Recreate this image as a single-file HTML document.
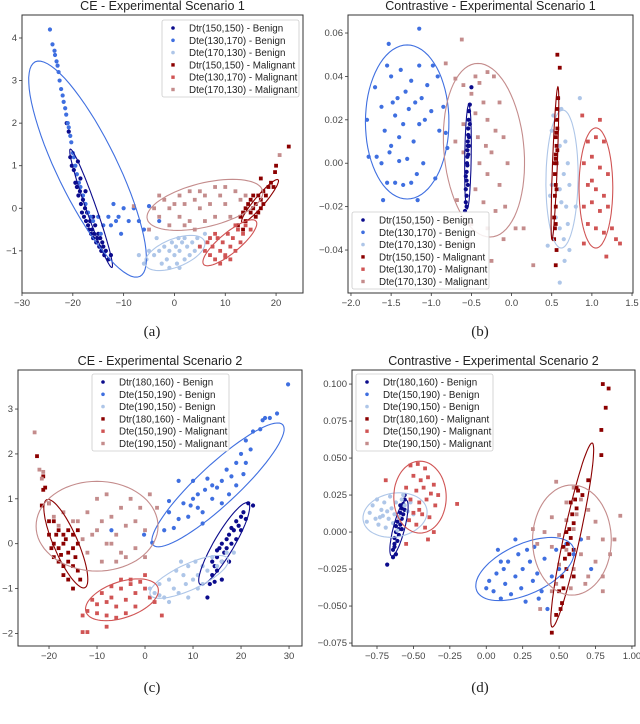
<!DOCTYPE html>
<html><head><meta charset="utf-8"><style>
html,body{margin:0;padding:0;background:#fff;width:640px;height:724px;overflow:hidden}
svg{display:block;font-family:"Liberation Sans",sans-serif}
</style></head><body>
<svg id="fig" width="640" height="724" viewBox="0 0 640 724"></svg>
<script>
// ---------- colors per series ----------
const seriesColors = ["#0b0b8c","#3f6fe0","#aec6e8","#8b0000","#d05454","#c48c8c"];
const seriesShapes = ["dot","dot","dot","sq","sq","sq"];

// ---------- panel (a) data ----------
const legendA = ["Dtr(150,150) - Benign","Dte(130,170) - Benign","Dte(170,130) - Benign","Dtr(150,150) - Malignant","Dte(130,170) - Malignant","Dte(170,130) - Malignant"];
const xTicksA = [-30,-20,-10,0,10,20];
const yTicksA = [-1,0,1,2,3,4];
const a0 = [[-20.8,1.8],[-20.5,1.2],[-20.2,1.0],[-19.8,0.9],[-19.5,0.6],[-19.2,0.5],[-18.9,0.3],[-18.6,0.4],[-18.4,0.1],[-18.2,-0.1],[-18,0.2],[-17.8,-0.2],[-17.6,0],[-17.4,-0.3],[-17.2,-0.1],[-17,-0.4],[-16.8,-0.5],[-16.6,-0.3],[-16.4,-0.6],[-16.2,-0.5],[-16,-0.7],[-15.8,-0.6],[-15.6,-0.4],[-15.4,-0.8],[-15.2,-0.7],[-15,-0.6],[-14.8,-0.9],[-14.6,-0.7],[-14.4,-1.0],[-14.2,-0.8],[-14,-0.9],[-13.8,-1.1],[-13.5,-1.0],[-13,-1.2],[-12.5,-1.1],[-19,1.1],[-18.5,0.7],[-17.5,0.4],[-16,-0.2],[-21.2,2.0]];
const a1 = [[-24.5,4.2],[-24,3.85],[-23.6,3.7],[-23.5,3.6],[-23.2,3.45],[-23,3.35],[-22.8,3.2],[-22.6,3.0],[-22.3,2.8],[-22,2.65],[-21.8,2.5],[-21.5,2.35],[-21.3,2.2],[-21,2.0],[-20.8,1.9],[-20.5,1.7],[-20.3,1.55],[-20,1.3],[-19.8,1.2],[-19.5,1.0],[-19.2,0.8],[-18.8,0.6],[-18.5,0.5],[-18,0.3],[-17.5,0.1],[-17,-0.1],[-16.5,-0.2],[-16,-0.3],[-15,-0.2],[-14,-0.4],[-13,-0.2],[-12,0.1],[-11.5,-0.3],[-11,-0.2],[-10,0],[-9,-0.3],[-8,0],[-7,-0.3],[-6,-0.5],[-5,0.05],[-10.5,-0.6],[-12.5,-0.4],[-3,-0.3],[-14.5,-0.6]];
const a2 = [[-7,-1.1],[-5.5,-1.2],[-5,-1.0],[-4,-1.1],[-3,-1.0],[-2,-0.9],[-1.5,-1.2],[-1,-1.0],[-0.5,-0.8],[0,-1.1],[0.3,-0.9],[0.5,-1.3],[1,-1.0],[1.5,-0.8],[2,-1.2],[2.5,-0.9],[3,-1.1],[3.5,-0.8],[4,-1.0],[4.5,-0.7],[5,-0.9],[6,-0.6],[7,-0.7],[-1,-1.4],[1,-1.4],[-2.5,-1.3],[0.8,-0.7],[-6,-1.3],[2,-0.7],[-3.5,-0.7]];
const a3 = [[12.5,-0.4],[13,-0.2],[13.5,-0.1],[14,0],[14,-0.3],[14.5,0.1],[15,-0.1],[15,0.2],[15.5,0],[16,0.1],[16,-0.2],[16.5,0.3],[17,0.2],[17,0],[17.5,0.4],[18,0.3],[18.5,0.5],[19,0.6],[19.5,0.5],[13.5,-0.5],[16.5,-0.1],[15.5,0.3],[17.5,0.1],[20,1.0],[19.8,0.85],[22.5,1.45],[17,0.7]];
const a4 = [[5,-0.9],[6,-1.0],[6.5,-0.8],[7,-1.1],[7.5,-0.9],[8,-1.2],[8.5,-0.7],[9,-1.0],[9.5,-0.8],[10,-1.1],[10.5,-0.6],[11,-0.9],[11.5,-0.7],[12,-1.0],[12.5,-0.5],[13,-0.8],[13.5,-0.6],[14,-0.4],[15,-0.5],[10,-1.15],[8,-0.6],[9,-1.3],[12,-0.4],[11,-1.2],[7,-0.7]];
const a5 = [[-8,0.05],[-5,-0.5],[-4,0],[-3,-0.2],[-2,0.2],[-1,0],[-1,-0.4],[0,0.1],[1,0.3],[1,-0.2],[2,0.1],[3,0.4],[3,-0.3],[4,0.2],[5,0],[5,0.4],[6,0.3],[6,-0.3],[7,0.1],[8,0.5],[8,-0.2],[9,0.3],[10,0.1],[10,0.5],[11,-0.2],[12,0.4],[13,0.2],[14,0.3],[2,-0.4],[-3,0.3],[20.7,1.25],[4,-0.5]];
const ellA = [[-16.4,0,4.1,-1.39,0.93,0.04],[-17.1,0.92,10.3,-2.52,5.3,0.31],[0.1,-1.05,5.9,0.22,0,0.35],[16.85,0.17,3.55,0.5,0.76,-0.075],[10.9,-0.81,5.3,0.45,0,0.3],[6.0,0.08,11.4,0.3,-0.3,0.52]];

// ---------- panel (b) data ----------
const xTicksB = [-2.0,-1.5,-1.0,-0.5,0.0,0.5,1.0,1.5];
const yTicksB = [-0.04,-0.02,0.00,0.02,0.04,0.06];
const b0 = [[-0.58,-0.022],[-0.57,-0.018],[-0.57,-0.012],[-0.56,-0.008],[-0.56,-0.004],[-0.555,0],[-0.55,0.003],[-0.55,0.006],[-0.545,0.01],[-0.54,0.013],[-0.54,0.016],[-0.535,0.02],[-0.53,0.024],[-0.52,0.027],[-0.5,0.035],[-0.56,-0.015],[-0.55,-0.001],[-0.545,0.008],[-0.54,0.004],[-0.53,0.012],[-0.52,0.018],[-0.56,-0.02],[-0.57,-0.006],[-0.545,-0.01],[-0.53,0.008]];
const b1 = [[-1.8,0.02],[-1.78,0.003],[-1.7,0.035],[-1.68,0.003],[-1.62,0.026],[-1.6,-0.017],[-1.58,0.015],[-1.55,0.045],[-1.53,0.055],[-1.5,0.04],[-1.5,0.008],[-1.48,0.028],[-1.45,0.022],[-1.45,-0.009],[-1.42,0.03],[-1.4,0.012],[-1.38,0.043],[-1.35,0.018],[-1.35,-0.01],[-1.32,0.033],[-1.3,0.002],[-1.28,0.025],[-1.25,0.038],[-1.22,0.01],[-1.2,0.028],[-1.18,-0.005],[-1.15,0.018],[-1.15,0.045],[-1.12,0.03],[-1.1,0.0],[-1.08,0.02],[-1.05,0.036],[-1.0,0.024],[-0.98,0.045],[-0.95,-0.007],[-0.92,0.04],[-0.9,0.015],[-0.85,0.026],[-1.15,0.062],[-1.17,-0.017],[-1.52,0.005],[-1.4,0.001],[-1.62,0.0],[-0.82,0.014],[-0.8,0.007],[-1.25,-0.009],[-1.55,-0.009]];
const b2 = [[0.58,0.03],[0.62,0.025],[0.5,0.015],[0.67,0.01],[0.6,0.008],[0.7,0.0],[0.55,0.0],[0.65,-0.005],[0.5,-0.01],[0.6,-0.012],[0.72,-0.01],[0.48,-0.015],[0.62,-0.018],[0.68,-0.02],[0.55,-0.025],[0.7,-0.028],[0.6,-0.03],[0.65,-0.035],[0.45,-0.038],[0.72,-0.04],[0.6,-0.055],[0.85,0.03],[0.8,-0.02],[0.52,0.022],[0.66,-0.045]];
const b3 = [[0.53,-0.035],[0.54,-0.03],[0.53,-0.025],[0.55,-0.02],[0.54,-0.015],[0.55,-0.01],[0.54,-0.005],[0.56,0],[0.55,0.004],[0.56,0.008],[0.55,0.012],[0.57,0.016],[0.56,0.02],[0.57,0.025],[0.58,0.03],[0.55,-0.028],[0.56,-0.012],[0.55,0.002],[0.57,0.006],[0.56,0.014],[0.57,0.05],[0.6,0.044],[0.55,-0.047],[0.54,0.0],[0.56,-0.04]];
const b4 = [[0.88,0.022],[1.1,0.02],[0.95,0.01],[1.05,0.012],[1.15,0.01],[0.9,0.0],[1.0,0.003],[1.1,-0.002],[1.2,-0.005],[0.95,-0.01],[1.05,-0.012],[1.15,-0.015],[0.9,-0.02],[1.0,-0.018],[1.1,-0.022],[1.2,-0.02],[0.95,-0.028],[1.05,-0.03],[1.15,-0.032],[1.3,-0.035],[1.35,-0.037],[1.18,-0.043],[0.9,-0.037],[1.25,-0.03],[1.0,-0.008]];
const b5 = [[-0.62,0.057],[-0.82,0.046],[-0.7,0.039],[-0.6,0.036],[-0.45,0.04],[-0.4,0.037],[-0.3,0.042],[-0.22,0.04],[-0.5,0.032],[-0.35,0.028],[-0.15,0.028],[-0.45,0.023],[-0.3,0.02],[-0.2,0.015],[-0.1,0.012],[-0.42,0.012],[-0.32,0.008],[-0.6,0.018],[-0.25,0.005],[-0.05,0.0],[-0.4,0.0],[-0.3,-0.005],[-0.15,-0.01],[-0.45,-0.012],[-0.35,-0.018],[-0.2,-0.022],[-0.08,-0.02],[-0.5,-0.028],[-0.3,-0.03],[-0.1,-0.035],[0.05,-0.03],[-0.68,-0.017],[-0.25,-0.045],[0.27,-0.047],[0.15,-0.03],[-0.7,0.01],[-0.55,-0.035],[-0.6,0.005]];
const ellB = [[-0.543,0.0029,0.01,0.024,0.04,0],[-1.30,0.019,0.52,0,0,0.0355],[0.628,-0.0073,0.2,0,0.01,0.0318],[0.54,0.0,0.037,0.0352,0.03,0],[1.05,-0.0114,0.21,0,0,0.0277],[-0.344,0.006,-0.075,0.040,0.5,0]];

// ---------- panel (c) data ----------
const legendC = ["Dtr(180,160) - Benign","Dte(150,190) - Benign","Dte(190,150) - Benign","Dtr(180,160) - Malignant","Dte(150,190) - Malignant","Dte(190,150) - Malignant"];
const xTicksC = [-20,-10,0,10,20,30];
const yTicksC = [-2,-1,0,1,2,3];
const c0 = [[13,-1.2],[13.5,-0.9],[14,-0.7],[14.5,-0.5],[15,-0.6],[15,-0.3],[15.5,-0.1],[16,-0.4],[16,0],[16.5,-0.2],[17,0.1],[17,-0.1],[17.5,0.2],[18,0],[18,0.35],[18.5,0.3],[19,0.1],[19,0.5],[19.5,0.4],[20,0.6],[20.5,0.7],[21,0.55],[21.5,0.9],[22.5,0.85],[14,-0.4],[16,-0.8],[14.5,-0.85],[17.5,-0.4],[20,0.3],[15,-0.15]];
const c1 = [[1.5,0.02],[-0.2,0.2],[-7,0.3],[4,0.3],[5,0.7],[6,0.35],[7,0.55],[8,0.9],[9,0.6],[9.5,0.85],[10,1.0],[11,0.8],[11,1.1],[12,0.7],[12.5,1.2],[13,1.45],[14,1.0],[14,1.3],[15,1.25],[16,1.4],[16,0.9],[17,1.65],[17.5,1.1],[18,1.5],[19,1.8],[19,1.3],[20,2.0],[20.5,1.55],[21,2.3],[21,1.8],[22,2.1],[22.5,2.5],[24,2.55],[24.5,2.75],[25,2.8],[26,2.8],[27.5,2.9],[29.8,3.55],[7,1.4],[10,1.4],[5,0.95],[12,0.45]];
const c2 = [[1,-1],[2,-1.1],[3,-0.9],[4,-1.2],[5,-0.8],[6,-1.0],[6.5,-0.6],[7,-1.1],[8,-0.7],[8.5,-0.9],[9,-0.5],[9,-1.2],[10,-0.8],[10.5,-0.4],[11,-0.7],[12,-0.9],[12,-0.5],[13,-0.6],[14,-0.3],[15,-0.5],[16,-0.4],[17,-0.2],[18.5,-0.2],[5,-1.3],[7.5,-0.4],[11,-1.0],[3,-1.15]];
const c3 = [[-22.5,1.95],[-21.2,1.5],[-21.2,1.2],[-20.8,1.25],[-21.5,0.85],[-20,0.9],[-20,0.5],[-19,0.5],[-18,0.3],[-17,0.2],[-16,0.3],[-15,0.2],[-14,0.3],[-20,0.2],[-19,0],[-18,-0.1],[-17,0],[-16,-0.2],[-15,-0.1],[-14,0],[-19,-0.3],[-18,-0.4],[-17,-0.5],[-16,-0.4],[-15,-0.5],[-14,-0.6],[-17,-0.7],[-16,-0.8],[-15,-1.0],[-13.5,-0.8],[-18.5,0.2],[-16.5,0.1],[-19.5,-0.1],[-14.5,-0.3],[-17.5,-0.25]];
const c4 = [[-13,-1.6],[-12,-1.5],[-11,-1.25],[-10,-1.35],[-9,-1.1],[-8,-1.3],[-7,-1.2],[-6,-1.4],[-5,-1.0],[-4,-1.25],[-3,-0.9],[-2,-1.1],[-1,-0.85],[0,-1.0],[1,-1.2],[2,-1.3],[-8,-1.6],[-6,-1.65],[-4,-1.55],[-2,-1.4],[-10,-1.55],[-3,-0.8],[0,-0.7],[-8,-1.85],[-13,-1.97],[-12,-1.97],[3.5,-1.6],[-5,-0.8],[-7,-0.95]];
const c5 = [[-23,2.48],[-22,1.65],[-21.2,1.6],[-21.5,1.45],[-20,0.9],[-19,0.6],[-18,0.4],[-17,0.7],[-15,0.5],[-12,0.7],[-10,0.3],[-10,1.0],[-9,0.5],[-8,0.0],[-8,1.1],[-7,0.6],[-6,0.2],[-5,0.8],[-5,-0.2],[-4,0.4],[-3,1.0],[-2,0.5],[-2,-0.1],[-1,0.8],[0,0.3],[0,-0.3],[-11,0.2],[-12,-0.2],[-9,-0.4],[-6,-0.4],[1,1.1],[2.5,0.8],[-13,0.1],[-14,0.5],[-4,-0.3],[-7,0.0]];
const ellC = [[16.5,0,5.0,0.91,1.8,-0.11],[15.2,1.31,13.5,1.34,2.8,-0.33],[9.2,-0.74,8.1,0.4,1.14,-0.26],[-16.5,0,-3.96,0.98,2.3,0.106],[-4.8,-1.25,7.5,0.27,1.19,-0.38],[-10,0.39,12.7,0,0,1.0]];

// ---------- panel (d) data ----------
const xTicksD = [-0.75,-0.50,-0.25,0.00,0.25,0.50,0.75,1.00];
const yTicksD = [-0.075,-0.050,-0.025,0.000,0.025,0.050,0.075,0.100];
const d0 = [[-0.68,-0.022],[-0.64,-0.017],[-0.64,-0.012],[-0.63,-0.008],[-0.63,-0.004],[-0.62,0],[-0.62,0.004],[-0.61,0.007],[-0.6,-0.002],[-0.6,0.01],[-0.59,0.013],[-0.59,0.005],[-0.58,0.016],[-0.58,0.009],[-0.57,0.019],[-0.57,0.012],[-0.56,0.022],[-0.56,0.015],[-0.56,0.025],[-0.62,-0.015],[-0.61,-0.006],[-0.6,0.002],[-0.58,0.002],[-0.63,-0.01],[-0.59,0.018]];
const d1 = [[0,-0.038],[0.02,-0.033],[0.05,-0.04],[0.07,-0.028],[0.08,-0.012],[0.1,-0.045],[0.12,-0.025],[0.13,-0.035],[0.15,-0.02],[0.17,-0.042],[0.2,-0.03],[0.22,-0.015],[0.24,-0.038],[0.25,-0.025],[0.27,-0.047],[0.3,-0.02],[0.32,-0.033],[0.33,-0.01],[0.35,-0.028],[0.38,-0.04],[0.4,-0.018],[0.42,-0.052],[0.45,-0.03],[0.48,-0.012],[0.5,-0.025],[0.55,-0.008],[0.6,-0.015],[0.65,-0.005],[0.72,-0.025],[0.2,-0.005],[0.1,-0.02],[0.36,-0.045],[0.28,-0.012]];
const d2 = [[-0.82,0.007],[-0.8,0.013],[-0.78,0.018],[-0.76,0.009],[-0.75,0.022],[-0.74,0.005],[-0.72,0.015],[-0.71,0.011],[-0.7,0.02],[-0.69,0.003],[-0.68,0.014],[-0.67,0.009],[-0.66,0.024],[-0.65,0.016],[-0.64,0.006],[-0.63,0.012],[-0.62,0.02],[-0.6,0.01],[-0.58,0.022],[-0.56,0.018],[-0.54,0.014],[-0.52,0.02],[-0.5,0.012],[-0.73,0.01],[-0.61,0.001],[-0.57,0.025]];
const d3 = [[0.45,-0.068],[0.48,-0.056],[0.51,-0.052],[0.52,-0.048],[0.5,-0.04],[0.53,-0.038],[0.52,-0.03],[0.55,-0.025],[0.54,-0.018],[0.57,-0.015],[0.56,-0.008],[0.58,-0.004],[0.57,0.002],[0.6,0.006],[0.59,0.012],[0.62,0.016],[0.61,0.022],[0.63,0.028],[0.62,0.03],[0.66,0.025],[0.7,0.035],[0.55,0.0],[0.6,-0.012],[0.53,-0.01],[0.58,0.02],[0.8,0.1],[0.84,0.097],[0.82,0.084],[0.79,0.069],[0.79,0.052],[0.6,-0.03]];
const d4 = [[-0.69,0.035],[-0.2,0.019],[-0.52,0.045],[-0.47,0.046],[-0.42,0.043],[-0.5,0.038],[-0.45,0.035],[-0.4,0.037],[-0.36,0.032],[-0.55,0.03],[-0.48,0.028],[-0.43,0.03],[-0.38,0.026],[-0.33,0.025],[-0.52,0.022],[-0.46,0.02],[-0.41,0.022],[-0.35,0.018],[-0.5,0.013],[-0.44,0.012],[-0.39,0.01],[-0.48,0.005],[-0.42,0.003],[-0.36,0.0],[-0.4,-0.005],[-0.55,-0.008],[-0.46,0.015],[-0.53,0.008]];
const d5 = [[0.37,-0.052],[0.48,0.034],[0.6,0.03],[0.55,0.02],[0.65,0.022],[0.7,0.015],[0.45,0.01],[0.55,0.008],[0.62,0.012],[0.75,0.007],[0.92,0.011],[0.4,0.0],[0.5,-0.002],[0.6,0.002],[0.7,-0.004],[0.8,-0.005],[0.45,-0.01],[0.55,-0.012],[0.65,-0.015],[0.75,-0.02],[0.85,-0.015],[0.5,-0.022],[0.6,-0.025],[0.7,-0.03],[0.8,-0.03],[0.48,-0.035],[0.58,-0.038],[0.68,-0.035],[0.8,-0.04],[0.45,-0.04],[0.35,-0.008],[0.32,0.002],[0.88,-0.005]];
const ellD = [[-0.599,0.0027,0.048,0.0189,0.04,0],[0.266,-0.025,0.33,0.0149,0.072,-0.0153],[-0.626,0.0115,0.22,0.002,0,0.0149],[0.59,-0.002,0.137,0.0622,0.054,-0.0011],[-0.455,0.0236,0.18,0,0,0.0243],[0.588,-0.0054,0.27,0,0,0.0372]];

const NS = "http://www.w3.org/2000/svg";
const svg = document.getElementById("fig");
function mk(tag, attrs, parent){const e=document.createElementNS(NS,tag);for(const k in attrs)e.setAttribute(k,attrs[k]);(parent||svg).appendChild(e);return e;}
function fmt(v,d){const s=Math.abs(v).toFixed(d);return (v<0?"\u2212":"")+s;}

const panels = [
 {id:"a",title:"CE - Experimental Scenario 1",box:[22,15,281,278],xd:[-30,25.3],yd:[-1.99,4.54],xt:xTicksA,yt:yTicksA,dec:[0,0],series:[a0,a1,a2,a3,a4,a5],ell:ellA,legend:legendA,leg:[162,20],cap:[152,336]},
 {id:"b",title:"Contrastive - Experimental Scenario 1",box:[348,15,285,278],xd:[-2.037,1.512],yd:[-0.0598,0.0683],xt:xTicksB,yt:yTicksB,dec:[1,2],series:[b0,b1,b2,b3,b4,b5],ell:ellB,legend:legendA,leg:[352,212],cap:[480,336]},
 {id:"c",title:"CE - Experimental Scenario 2",box:[18,370,284,276],xd:[-26.46,32.7],yd:[-2.28,3.87],xt:xTicksC,yt:yTicksC,dec:[0,0],series:[c0,c1,c2,c3,c4,c5],ell:ellC,legend:legendC,leg:[92,374],cap:[152,692]},
 {id:"d",title:"Contrastive - Experimental Scenario 2",box:[352,370,283,276],xd:[-0.9216,1.021],yd:[-0.077,0.1095],xt:xTicksD,yt:yTicksD,dec:[2,3],series:[d0,d1,d2,d3,d4,d5],ell:ellD,legend:legendC,leg:[356,374],cap:[480,692]}
];

panels.forEach(p=>{
  const [L,T,W,H]=p.box;
  const sx=x=>L+(x-p.xd[0])/(p.xd[1]-p.xd[0])*W;
  const sy=y=>T+H-(y-p.yd[0])/(p.yd[1]-p.yd[0])*H;
  const g=mk("g",{});
  
  
  const clipId="clip"+p.id;
  const cp=mk("clipPath",{id:clipId},g);mk("rect",{x:L,y:T,width:W,height:H},cp);
  const t=mk("text",{x:L+W/2,y:T-5,"text-anchor":"middle","font-size":"12.5",fill:"#222"},g);t.textContent=p.title;
  
  
  p.xt.forEach(v=>{const x=sx(v);mk("line",{x1:x,x2:x,y1:T+H,y2:T+H+3,stroke:"#333","stroke-width":"0.8"},g);
    const tx=mk("text",{x:x,y:T+H+13,"text-anchor":"middle","font-size":"9.5",fill:"#444"},g);tx.textContent=fmt(v,p.dec[0]);
    
    });
  p.yt.forEach(v=>{const y=sy(v);mk("line",{x1:L-3,x2:L,y1:y,y2:y,stroke:"#333","stroke-width":"0.8"},g);
    const ty=mk("text",{x:L-5,y:y+3,"text-anchor":"end","font-size":"9.5",fill:"#444"},g);ty.textContent=fmt(v,p.dec[1]);
    
    });
  const pg=mk("g",{"clip-path":"url(#"+clipId+")"},g);
  p.series.forEach((s,i)=>{
    const sg=mk("g",{fill:seriesColors[i]},pg);
    
    
    s.forEach(pt=>{const x=sx(pt[0]),y=sy(pt[1]);
      if(seriesShapes[i]==="dot") mk("circle",{cx:x,cy:y,r:2.1},sg);
      else mk("rect",{x:x-1.9,y:y-1.9,width:3.8,height:3.8},sg);});
  });
  p.ell.forEach((e,i)=>{
    let d="";for(let k=0;k<=72;k++){const a=k/72*2*Math.PI;const x=sx(e[0]+Math.cos(a)*e[2]+Math.sin(a)*e[4]);const y=sy(e[1]+Math.cos(a)*e[3]+Math.sin(a)*e[5]);d+=(k?"L":"M")+x.toFixed(1)+" "+y.toFixed(1);}
    const el=mk("path",{d:d+"Z",fill:"none",stroke:seriesColors[i],"stroke-width":"1.1"},pg);
    
    
  });
  mk("rect",{x:L,y:T,width:W,height:H,fill:"none",stroke:"#333","stroke-width":"1"},g);
  const [lx,ly]=p.leg;const lw=137,lh=77;
  const lg=mk("g",{},g);
  
  
  mk("rect",{x:lx,y:ly,width:lw,height:lh,fill:"#fff","fill-opacity":"0.85",stroke:"#ccc","stroke-width":"0.8",rx:"2"},lg);
  p.legend.forEach((txt,i)=>{const yy=ly+8+i*12.3;
    if(seriesShapes[i]==="dot") mk("circle",{cx:lx+11,cy:yy,r:1.8,fill:seriesColors[i]},lg);
    else mk("rect",{x:lx+9.3,y:yy-1.7,width:3.4,height:3.4,fill:seriesColors[i]},lg);
    const lt=mk("text",{x:lx+27,y:yy+3.5,"font-size":"9.8",fill:"#222"},lg);lt.textContent=txt;
    
    });
  const cap=mk("text",{x:p.cap[0],y:p.cap[1],"text-anchor":"middle","font-size":"15","font-family":"Liberation Serif, serif",fill:"#222"},g);cap.textContent="("+p.id+")";
  
  
});
</script>
</body></html>
